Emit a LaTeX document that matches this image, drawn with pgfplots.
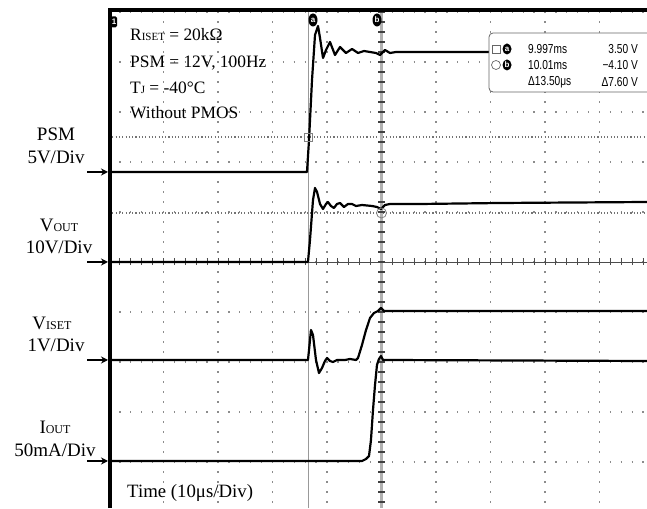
\documentclass[border=0pt]{standalone}
\usepackage{pgfplots}
\pgfplotsset{compat=1.18}
\usepackage{graphicx}
\usepackage{fontspec}
\setmainfont{Liberation Serif}
\newfontfamily\scopefont{Liberation Sans}
\usetikzlibrary{arrows.meta,shapes.geometric}

% traces in screen divisions (x: 10us/div, y: divisions from bottom)
\pgfplotstableread{
x y
0 6.80
3.633 6.80
3.670 7.44
3.725 8.64
3.780 9.54
3.835 9.72
3.872 9.48
3.927 9.08
3.982 9.24
4.055 9.40
4.147 9.14
4.239 9.30
4.349 9.18
4.459 9.26
4.569 9.18
4.679 9.22
4.789 9.20
4.899 9.18
4.972 9.14
5.064 9.24
5.156 9.18
5.266 9.20
9.872 9.20
}\psm
\pgfplotstableread{
x y
0 5.00
3.651 5.00
3.688 5.44
3.743 6.24
3.780 6.48
3.817 6.40
3.872 6.16
3.927 6.06
3.982 6.16
4.018 6.20
4.073 6.12
4.128 6.08
4.183 6.16
4.239 6.18
4.312 6.10
4.385 6.16
4.459 6.16
4.532 6.12
4.642 6.14
4.826 6.12
4.917 6.10
4.991 6.06
5.064 6.14
5.156 6.16
5.706 6.16
7.174 6.18
9.872 6.20
}\vout
\pgfplotstableread{
x y
0 3.04
3.651 3.04
3.670 3.24
3.706 3.64
3.743 3.54
3.798 3.04
3.853 2.78
3.908 2.88
3.963 3.02
4.000 3.08
4.055 3.02
4.110 3.00
4.183 3.04
4.330 3.04
4.422 3.06
4.532 3.04
4.569 3.08
4.642 3.34
4.716 3.64
4.789 3.88
4.862 3.98
4.936 4.02
4.991 4.08
5.046 4.02
9.872 4.02
}\viset
\pgfplotstableread{
x y
0 1.02
4.642 1.02
4.716 1.06
4.771 1.12
4.807 1.44
4.844 2.04
4.881 2.54
4.917 2.94
4.954 3.06
4.991 3.12
5.028 3.04
5.083 3.04
9.872 3.02
}\iout

\begin{document}
\begin{tikzpicture}[x=1pt,y=1pt]
\useasboundingbox (0,0) rectangle (647,508);
\begin{axis}[
  at={(109pt,0pt)}, anchor=south west,
  width=538pt, height=498pt, scale only axis,
  xmin=0, xmax=9.872, ymin=0.08, ymax=10.04,
  axis line style={draw=none},
  xtick={1,...,9}, ytick={1,...,10},
  xticklabels={}, yticklabels={},
  major tick length=0pt,
  grid=major,
  every axis x grid/.append style={black!45, line width=1.6pt, dash pattern=on 1.3pt off 8.7pt, dash phase=4.65pt},
  every axis y grid/.append style={black!45, line width=1.6pt, dash pattern=on 1.3pt off 9.6pt, dash phase=0.65pt},
  clip mode=individual,
]
% cursor level lines
\draw[black!55, line width=1.1pt, dash pattern=on 1.1pt off 2.2pt] (axis cs:0,7.5) -- (axis cs:9.872,7.5);
\draw[black!55, line width=1.1pt, dash pattern=on 1.1pt off 2.2pt] (axis cs:0,5.98) -- (axis cs:9.872,5.98);
% centre axes with ticks
\draw[black!70, line width=0.6pt] (axis cs:0,5) -- (axis cs:9.872,5);
\draw[black!70, line width=7pt, dash pattern=on 1pt off 9.9pt, dash phase=0.5pt] (axis cs:0,5) -- (axis cs:9.872,5);
% cursors
\draw[black!40, line width=1.6pt] (axis cs:3.66,0.08) -- (axis cs:3.66,10.04);
\draw[black!30, line width=3pt] (axis cs:5,0.08) -- (axis cs:5,10.04);
\draw[black!75, line width=7pt, dash pattern=on 1.2pt off 8.8pt, dash phase=4.6pt] (axis cs:5,0.08) -- (axis cs:5,10.04);

\addplot[black, line width=2.2pt, line join=round] table {\psm};
\addplot[black, line width=2.2pt, line join=round] table {\vout};
\addplot[black, line width=2.2pt, line join=round] table {\viset};
\addplot[black, line width=2.2pt, line join=round] table {\iout};

\addplot[only marks, mark=square, mark size=4pt, black!50, line width=0.8pt] coordinates {(3.66,7.5)};
\addplot[only marks, mark=o, mark size=5pt, black!50, line width=0.8pt] coordinates {(5,5.98)};
\end{axis}

% screen border
\draw[line width=3.6pt] (110,0) -- (110,498) -- (660,498);

% channel and cursor markers
\node[fill=black, rounded corners=1.5pt, minimum width=6pt, minimum height=11pt, inner sep=0pt,
  text=white, font=\scopefont\bfseries\fontsize{8}{8}\selectfont] at (114,486) {1};
\node[ellipse, fill=black, minimum width=9pt, minimum height=13pt, inner sep=0pt,
  text=white, font=\scopefont\bfseries\fontsize{8}{8}\selectfont] at (313,488) {a};
\node[ellipse, fill=black, minimum width=9pt, minimum height=13pt, inner sep=0pt,
  text=white, font=\scopefont\bfseries\fontsize{8}{8}\selectfont] at (377,488) {b};

% cursor readout
\draw[black!60, fill=white, rounded corners=4pt, line width=0.8pt] (489,416) rectangle (675,475);
\begin{scope}[every node/.style={inner sep=0pt, font=\scopefont\fontsize{13}{13}\selectfont}]
\node[draw=black!60, line width=0.7pt, minimum size=8pt] at (496,459) {};
\node[ellipse, fill=black, minimum width=9pt, minimum height=11pt, text=white, font=\scopefont\bfseries\fontsize{8}{8}\selectfont] at (507,459) {a};
\node[anchor=west] at (528,459) {\scalebox{0.78}[1]{9.997ms}};
\node[anchor=east] at (638,459) {\scalebox{0.78}[1]{3.50 V}};
\node[draw=black!60, line width=0.7pt, circle, minimum size=9pt] at (496,443) {};
\node[ellipse, fill=black, minimum width=9pt, minimum height=11pt, text=white, font=\scopefont\bfseries\fontsize{8}{8}\selectfont] at (507,443) {b};
\node[anchor=west] at (528,443) {\scalebox{0.78}[1]{10.01ms}};
\node[anchor=east] at (638,443) {\scalebox{0.78}[1]{−4.10 V}};
\node[anchor=west] at (528,426) {\scalebox{0.78}[1]{Δ13.50μs}};
\node[anchor=east] at (638,426) {\scalebox{0.78}[1]{Δ7.60 V}};
\end{scope}

% test conditions
\begin{scope}[every node/.style={anchor=west, inner sep=0pt, font=\fontsize{17.4}{20}\selectfont}]
\node at (130,473) {R{\fontsize{11}{11}\selectfont ISET} = 20kΩ};
\node at (130,445) {PSM = 12V, 100Hz};
\node at (130,420) {T{\fontsize{11}{11}\selectfont J} = -40°C};
\node at (130,395) {Without PMOS};
\end{scope}
\node[anchor=west, inner sep=0pt, font=\fontsize{18.8}{20}\selectfont] at (127,15) {Time (10μs/Div)};

% channel labels
\begin{scope}[every node/.style={inner sep=0pt, font=\fontsize{19}{22}\selectfont}]
\node at (56,374) {PSM};
\node at (56,351) {5V/Div};
\node at (59,283) {V{\fontsize{12}{12}\selectfont OUT}};
\node at (59,261) {10V/Div};
\node at (52,185) {V{\fontsize{12}{12}\selectfont ISET}};
\node at (56,163) {1V/Div};
\node at (55,81) {I{\fontsize{12}{12}\selectfont OUT}};
\node at (55,58) {50mA/Div};
\end{scope}
\foreach \yy in {336,246,148,47}
  \draw[-{Stealth[length=7pt,width=7pt]}, line width=1.4pt] (87,\yy) -- (108,\yy);
\end{tikzpicture}
\end{document}
